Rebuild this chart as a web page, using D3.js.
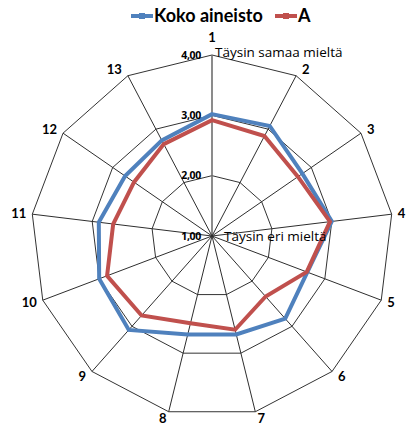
<!DOCTYPE html>
<html>
<head>
<meta charset="utf-8">
<script src="https://cdn.jsdelivr.net/npm/d3@7"></script>
<style>
  html, body { margin: 0; padding: 0; background: #fff; }
  svg { display: block; }
  text { fill: #000; }
  .lato { font-family: Lato, "Noto Sans", sans-serif; }
  .open { font-family: "Open Sans", "Noto Sans", sans-serif; }
</style>
</head>
<body>
<svg id="chart" width="406" height="426"></svg>
<script>
// Statement numbers around the radar
const categories = ["1","2","3","4","5","6","7","8","9","10","11","12","13"];

// Mean answers on a 1–4 scale
const kokoAineisto = [3.02, 3.06, 2.82, 3.00, 2.69, 2.83, 2.68, 2.68, 3.08, 3.00, 2.89, 2.75, 2.79];
const seriesA      = [2.92, 2.87, 2.73, 2.97, 2.68, 2.34, 2.60, 2.49, 2.76, 2.86, 2.65, 2.57, 2.72];

const seriesNames  = ["Koko aineisto", "A"];
const seriesColors = ["#4F81BD", "#C0504D"];

const ringValues = [1, 2, 3, 4];
const ringLabels = ["1,00", "2,00", "3,00", "4,00"];
const topCaption = "Täysin samaa mieltä";
const bottomCaption = "Täysin eri mieltä";

const svg = d3.select("#chart");
const cx = 212, cy = 236, R = 181;

const r = d3.scaleLinear().domain([1, 4]).range([0, R]);
const angle = d3.scaleLinear().domain([0, categories.length]).range([0, 2 * Math.PI]);

const g = svg.append("g").attr("transform", `translate(${cx},${cy})`);

// Grid polygons
const ringLine = d3.lineRadial()
  .angle((d, i) => angle(i))
  .radius(d => r(d))
  .curve(d3.curveLinearClosed);

ringValues.filter(v => v > 1).forEach(v => {
  g.append("path")
    .attr("d", ringLine(categories.map(() => v)))
    .attr("fill", "none")
    .attr("stroke", "#333")
    .attr("stroke-width", 1);
});

// Spokes
categories.forEach((c, i) => {
  const a = angle(i);
  g.append("line")
    .attr("x1", 0).attr("y1", 0)
    .attr("x2", Math.sin(a) * r(4))
    .attr("y2", -Math.cos(a) * r(4))
    .attr("stroke", i === 0 ? "#6f6f6f" : "#2e2e2e")
    .attr("stroke-width", i === 0 ? 1.6 : 1);
});

// Series lines
const seriesLine = d3.lineRadial()
  .angle((d, i) => angle(i))
  .radius(d => r(d))
  .curve(d3.curveLinearClosed);

[kokoAineisto, seriesA].forEach((vals, k) => {
  g.append("path")
    .attr("d", seriesLine(vals))
    .attr("fill", "none")
    .attr("stroke", seriesColors[k])
    .attr("stroke-width", 4)
    .attr("stroke-linejoin", "miter");
});

// Ring value labels along the first spoke
ringValues.forEach((v, i) => {
  g.append("text")
    .attr("class", "open")
    .attr("x", -11)
    .attr("y", -r(v))
    .attr("dy", "0.35em")
    .attr("text-anchor", "end")
    .attr("font-size", 10.5)
    .attr("font-weight", 700)
    .attr("letter-spacing", -0.3)
    .text(ringLabels[i]);
});

// Scale captions
g.append("text")
  .attr("class", "open")
  .attr("x", 3)
  .attr("y", -r(4) + 1.5)
  .attr("font-size", 13.5)
  .text(topCaption);

g.append("text")
  .attr("class", "open")
  .attr("x", 12)
  .attr("y", 0)
  .attr("dy", "0.36em")
  .attr("font-size", 13.5)
  .text(bottomCaption);

// Category labels outside the outer polygon
categories.forEach((c, i) => {
  const a = angle(i);
  const s = Math.sin(a), co = Math.cos(a);
  const vx = s * r(4), vy = -co * r(4);
  const t = g.append("text")
    .attr("class", "lato")
    .attr("font-size", 13)
    .attr("font-weight", 700)
    .attr("text-anchor", "middle")
    .attr("dy", "0.35em")
    .text(c);
  const w = t.node().getComputedTextLength();
  const dx = Math.sign(s) * (w / 2 + 6) * Math.min(1, Math.abs(s) * 2.5);
  const dy = -co * (Math.abs(s) < 0.05 ? 17.5 : 7);
  t.attr("x", vx + dx).attr("y", vy + dy);
});

// Legend
const legend = svg.append("g").attr("transform", "translate(0,16)");
const legendX = [131, 275];
seriesNames.forEach((name, k) => {
  const x0 = legendX[k];
  legend.append("line")
    .attr("x1", x0).attr("x2", x0 + 22)
    .attr("y1", 0).attr("y2", 0)
    .attr("stroke", seriesColors[k])
    .attr("stroke-width", 4);
  legend.append("rect")
    .attr("x", x0 + 8).attr("y", -3)
    .attr("width", 6).attr("height", 6)
    .attr("fill", seriesColors[k]);
  legend.append("text")
    .attr("class", "lato")
    .attr("x", x0 + 23)
    .attr("y", 0)
    .attr("dy", "0.36em")
    .attr("font-size", 18)
    .attr("font-weight", 700)
    .text(name);
});
</script>
</body>
</html>
